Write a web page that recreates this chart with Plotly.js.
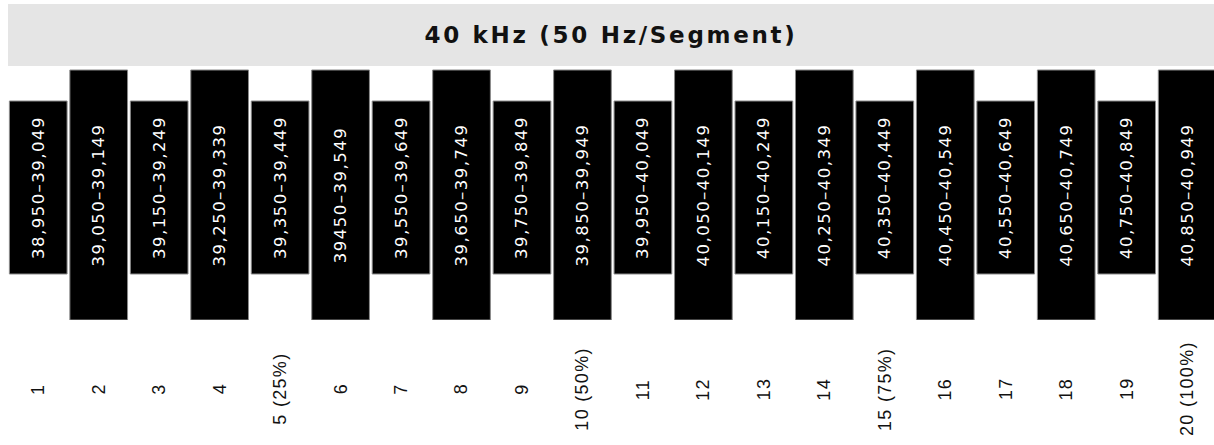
<!DOCTYPE html>
<html>
<head>
<meta charset="utf-8">
<script src="https://cdn.plot.ly/plotly-3.0.1.min.js"></script>
<style>
  html, body { margin: 0; padding: 0; background: #fff; }
  #chart { width: 1214px; height: 445px; }
  #chart text.bartext { letter-spacing: 1.5px; }
  #chart text.annotation-text { letter-spacing: 1.3px; }
  #chart text.gtitle { letter-spacing: 2.7px; }
</style>
</head>
<body>
<div id="chart"></div>
<script>
// Segment numbers (tick labels below each bar)
const segmentLabels = ["1","2","3","4","5 (25%)","6","7","8","9","10 (50%)",
  "11","12","13","14","15 (75%)","16","17","18","19","20 (100%)"];

// Frequency range shown inside each bar (Hz)
const rangeLabels = ["38,950–39,049","39,050–39,149","39,150–39,249","39,250–39,339",
  "39,350–39,449","39450–39,549","39,550–39,649","39,650–39,749","39,750–39,849",
  "39,850–39,949","39,950–40,049","40,050–40,149","40,150–40,249","40,250–40,349",
  "40,350–40,449","40,450–40,549","40,550–40,649","40,650–40,749","40,750–40,849",
  "40,850–40,949"];

// Visual bar extents (alternating short / tall blocks)
const barBase   = [46,0,46,0,46,0,46,0,46,0,46,0,46,0,46,0,46,0,46,0];
const barHeight = [173,250,173,250,173,250,173,250,173,250,173,250,173,250,173,250,173,250,173,250];

const titleText = "40 kHz (50 Hz/Segment)";

const xIdx = segmentLabels.map((_, i) => i);

const trace = {
  type: "bar",
  x: xIdx,
  y: barHeight,
  base: barBase,
  text: rangeLabels,
  textposition: "inside",
  insidetextanchor: "middle",
  textangle: -90,
  constraintext: "none",
  textfont: { family: "DejaVu Sans", size: 16.5, color: "#ffffff" },
  marker: { color: "#000000", line: { color: "#8a8a8a", width: 1 } },
  hoverinfo: "skip",
  cliponaxis: true
};

const annotations = segmentLabels.map((lab, i) => ({
  x: i, xref: "x",
  y: -0.275, yref: "paper",
  text: lab,
  textangle: -90,
  showarrow: false,
  xanchor: "center", yanchor: "middle",
  font: { family: "Liberation Sans, Arial, sans-serif", size: 18, color: "#111" }
}));

const layout = {
  width: 1214, height: 445,
  margin: { l: 8, r: 0, t: 69, b: 125, pad: 0 },
  paper_bgcolor: "#ffffff",
  plot_bgcolor: "#ffffff",
  bargap: 0.046,
  showlegend: false,
  title: {
    text: "<b>" + titleText + "</b>",
    x: 0.5, xref: "paper", xanchor: "center",
    y: 1 - 35 / 445, yref: "container", yanchor: "middle",
    font: { family: "DejaVu Sans", size: 23, color: "#111" }
  },
  xaxis: {
    range: [-0.5, 19.444],
    showticklabels: false, showgrid: false, zeroline: false, showline: false, ticks: "",
    fixedrange: true
  },
  yaxis: {
    range: [0, 251],
    showticklabels: false, showgrid: false, zeroline: false, showline: false, ticks: "",
    fixedrange: true
  },
  shapes: [{
    type: "rect", xref: "paper", yref: "paper",
    x0: 0, x1: 1,
    y0: (320 - 66) / 251, y1: (320 - 4) / 251,
    fillcolor: "#e5e5e5", line: { width: 0 }, layer: "below"
  }],
  annotations: annotations
};

Plotly.newPlot("chart", [trace], layout, { displayModeBar: false, staticPlot: true });
</script>
</body>
</html>
